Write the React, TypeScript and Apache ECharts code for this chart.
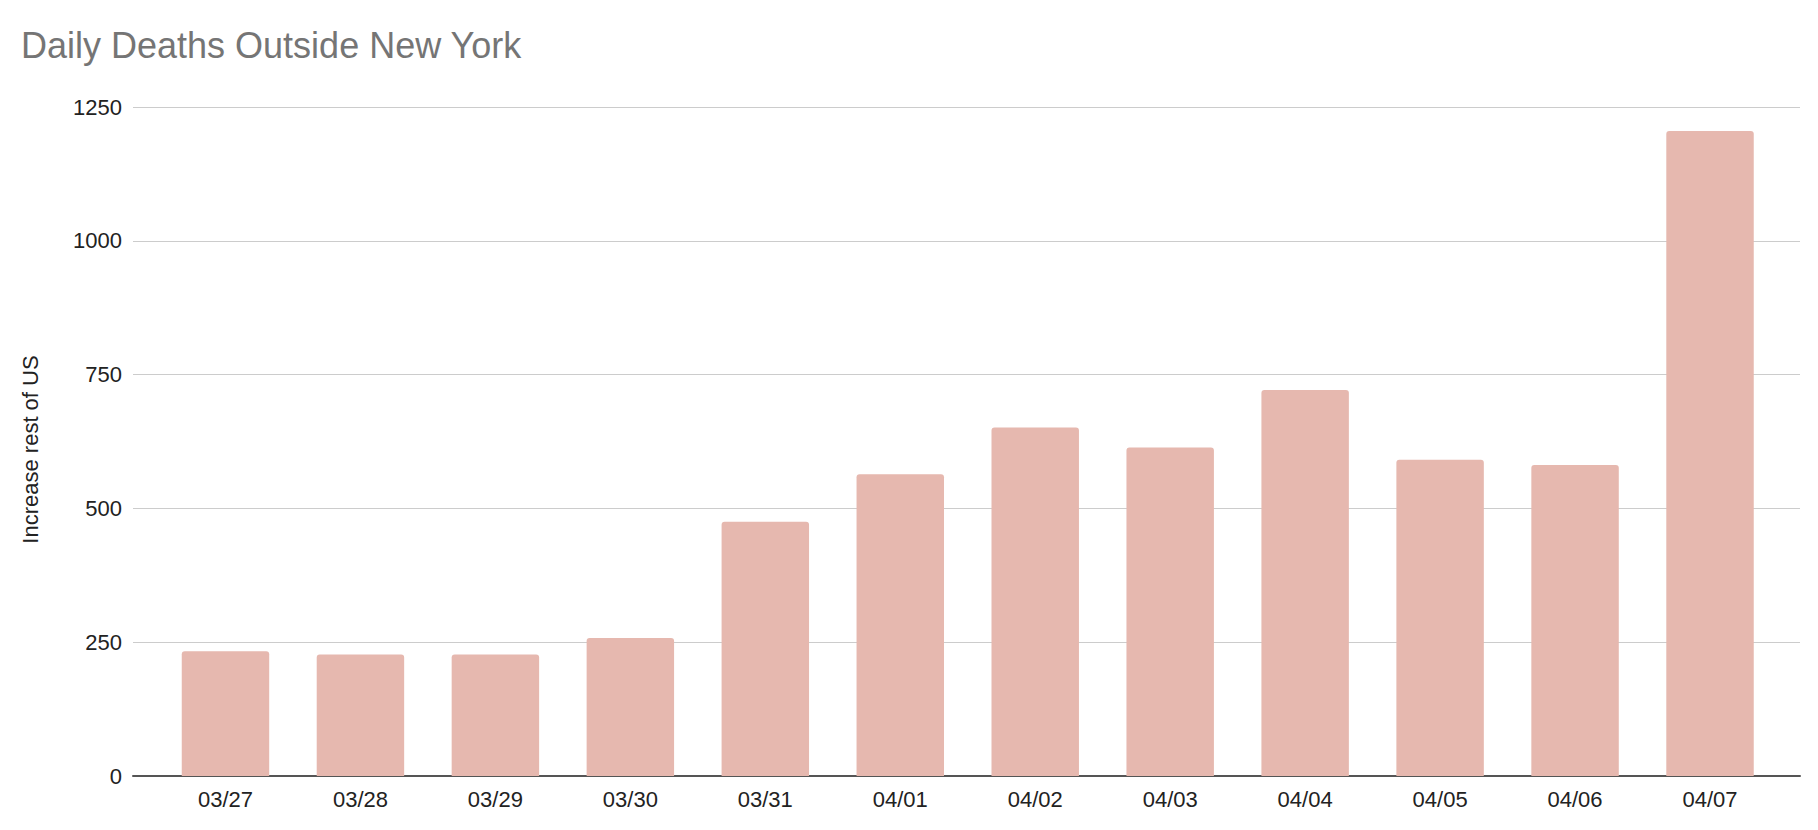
import React, { useEffect, useRef } from "react";
import * as echarts from "echarts";

const categories = ["03/27", "03/28", "03/29", "03/30", "03/31", "04/01", "04/02", "04/03", "04/04", "04/05", "04/06", "04/07"];
const increaseRestOfUS = [233, 227, 227, 258, 475, 564, 651, 614, 721, 591, 581, 1205];
const yTicks = { min: 0, max: 1250, interval: 250 };
const titleText = "Daily Deaths Outside New York";
const yAxisName = "Increase rest of US";

const FONT = '"Liberation Sans", Arial, Helvetica, sans-serif';

export default function App() {
  const ref = useRef<HTMLDivElement>(null);
  useEffect(() => {
    if (!ref.current) return;
    const chart = echarts.init(ref.current, undefined, { renderer: "svg" });
    const top = 107;
    const bottom = 830 - 776;
    chart.setOption({
      animation: false,
      backgroundColor: "#ffffff",
      title: {
        text: titleText,
        left: 21,
        top: 27,
        padding: 0,
        textStyle: { color: "#757575", fontSize: 36, fontWeight: "normal", fontFamily: FONT },
      },
      grid: [
        { left: 133, right: 18, top, bottom, containLabel: false },
        { left: 158, right: 40.5, top, bottom, containLabel: false },
      ],
      xAxis: [
        {
          gridIndex: 0,
          type: "value",
          min: 0,
          max: 1,
          axisLine: { show: true, lineStyle: { color: "#555555", width: 2 } },
          axisTick: { show: false },
          axisLabel: { show: false },
          splitLine: { show: false },
        },
        {
          gridIndex: 1,
          type: "category",
          data: categories,
          axisLine: { show: false },
          axisTick: { show: false },
          axisLabel: { color: "#222222", fontSize: 22, fontFamily: FONT, margin: 12 },
        },
      ],
      yAxis: [
        {
          gridIndex: 0,
          type: "value",
          min: yTicks.min,
          max: yTicks.max,
          interval: yTicks.interval,
          name: yAxisName,
          nameLocation: "middle",
          nameGap: 92,
          nameTextStyle: { color: "#222222", fontSize: 22, fontFamily: FONT, padding: [0, 16, 0, 0] },
          axisLine: { show: false },
          axisTick: { show: false },
          axisLabel: {
            color: "#222222",
            fontSize: 22,
            fontFamily: FONT,
            margin: 11,
            formatter: (v: number) => String(v),
          },
          splitLine: { show: true, lineStyle: { color: "#cccccc", width: 1 } },
        },
        {
          gridIndex: 1,
          type: "value",
          min: yTicks.min,
          max: yTicks.max,
          interval: yTicks.interval,
          show: false,
          splitLine: { show: false },
        },
      ],
      series: [
        {
          type: "bar",
          name: yAxisName,
          xAxisIndex: 1,
          yAxisIndex: 1,
          data: increaseRestOfUS,
          barWidth: "64.8%",
          itemStyle: { color: "#e6b8af", borderRadius: [3, 3, 0, 0] },
        },
      ],
    });
    return () => chart.dispose();
  }, []);
  return (
    <div
      ref={ref}
      style={{ position: "fixed", left: 0, top: 0, width: "1818px", height: "830px" }}
    />
  );
}
